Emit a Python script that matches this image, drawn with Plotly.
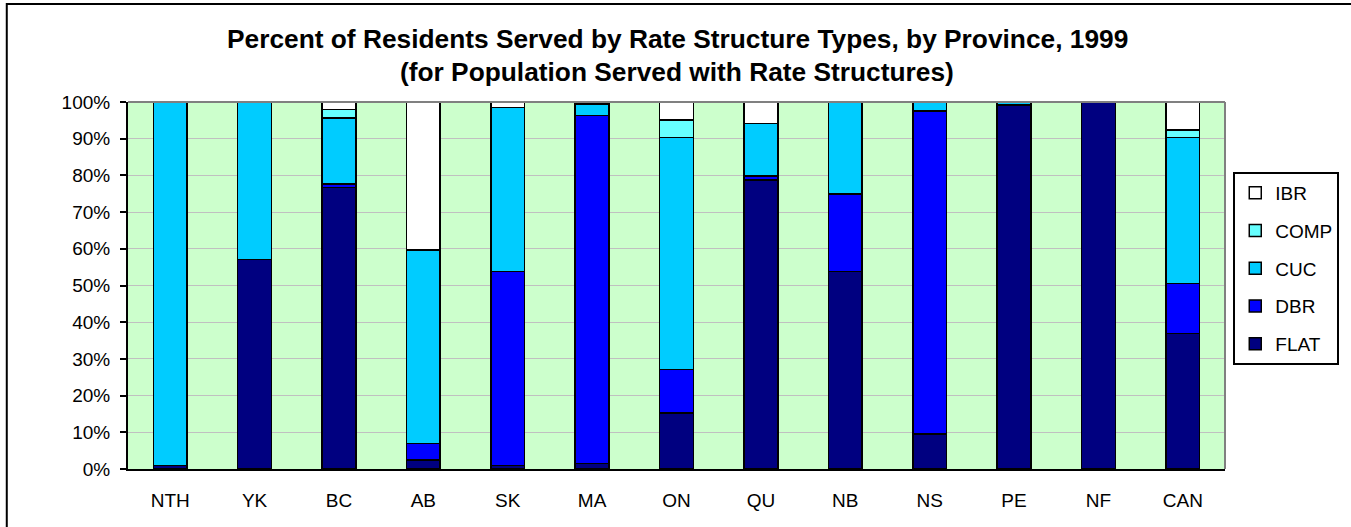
import plotly.graph_objects as go

provinces = ["NTH", "YK", "BC", "AB", "SK", "MA", "ON", "QU", "NB", "NS", "PE", "NF", "CAN"]
flat = [1.0, 57.1, 76.7, 2.5, 0.9, 1.5, 15.3, 78.8, 53.8, 9.6, 99.2, 100.0, 36.9]
dbr = [0.0, 0.0, 1.0, 4.4, 52.9, 94.8, 11.8, 1.1, 21.2, 88.0, 0.0, 0.0, 13.6]
cuc = [99.0, 42.9, 18.0, 52.8, 44.7, 3.2, 63.2, 14.2, 25.0, 2.4, 0.8, 0.0, 39.8]
comp = [0.0, 0.0, 2.2, 0.0, 0.0, 0.0, 4.8, 0.0, 0.0, 0.0, 0.0, 0.0, 2.1]
ibr = [0.0, 0.0, 2.1, 40.3, 1.5, 0.5, 4.9, 5.9, 0.0, 0.0, 0.0, 0.0, 7.6]

series = [("FLAT", flat, "#000080"), ("DBR", dbr, "#0000FF"), ("CUC", cuc, "#00CCFF"),
          ("COMP", comp, "#66FFFF"), ("IBR", ibr, "#FFFFFF")]

FONT = "Liberation Sans, Arial, sans-serif"

fig = go.Figure()
n = len(series)
for i, (name, vals, color) in enumerate(series):
    fig.add_trace(go.Bar(
        x=provinces, y=vals, name=name, legendgroup=name, legendrank=n - i,
        marker=dict(color=color, line=dict(color="black", width=1.5)),
    ))

W, H = 1351, 527
L, R, T, B = 128, 1232, 102, 469  # plot area pixels

def px_x(p):
    return (p - L) / (R - L)

def px_y(p):
    return (B - p) / (B - T)

fig.update_layout(
    width=W, height=H,
    margin=dict(l=L, r=W - R, t=T, b=H - B, pad=0),
    barmode="stack", bargap=0.6,
    paper_bgcolor="white", plot_bgcolor="#CCFFCC",
    font=dict(family=FONT, size=19, color="black"),
    showlegend=True,
    legend=dict(
        traceorder="grouped", tracegroupgap=10,
        x=px_x(1347), xanchor="right", y=px_y(172), yanchor="top",
        bordercolor="black", borderwidth=2, bgcolor="white",
        font=dict(family=FONT, size=19),
        itemwidth=30,
    ),
    xaxis=dict(
        showline=True, linecolor="black", linewidth=2,
        ticks="", tickfont=dict(family=FONT, size=19), ticklabelstandoff=13,
        showgrid=False,
    ),
    yaxis=dict(
        range=[0, 100], dtick=10, ticksuffix="%",
        showline=True, linecolor="black", linewidth=2,
        ticks="outside", ticklen=6, tickwidth=2, tickcolor="black",
        ticklabelstandoff=6,
        showgrid=True, gridcolor="#C0C0C0", gridwidth=1,
        zeroline=False, tickfont=dict(family=FONT, size=19),
    ),
    annotations=[
        dict(text="<b>Percent of Residents Served by Rate Structure Types, by Province, 1999</b>",
             xref="paper", yref="paper", x=px_x(681), y=px_y(39), xanchor="center", yanchor="middle",
             showarrow=False, font=dict(family=FONT, size=26.3)),
        dict(text="<b>(for Population Served with Rate Structures)</b>",
             xref="paper", yref="paper", x=px_x(681), y=px_y(72), xanchor="center", yanchor="middle",
             showarrow=False, font=dict(family=FONT, size=26.3)),
    ],
    shapes=[
        dict(type="line", xref="paper", yref="paper", x0=0, x1=1, y0=1, y1=1,
             line=dict(color="#808080", width=2), layer="above"),
        dict(type="line", xref="paper", yref="paper", x0=1, x1=1, y0=0, y1=1,
             line=dict(color="#808080", width=2), layer="above"),
        dict(type="rect", xref="paper", yref="paper",
             x0=px_x(6), x1=px_x(1400), y0=px_y(4), y1=px_y(560),
             line=dict(color="black", width=2), layer="above"),
    ],
)

fig.write_html("out.html", config={"displayModeBar": False},
               post_script="document.body.style.margin='0';document.body.style.overflow='hidden';")
